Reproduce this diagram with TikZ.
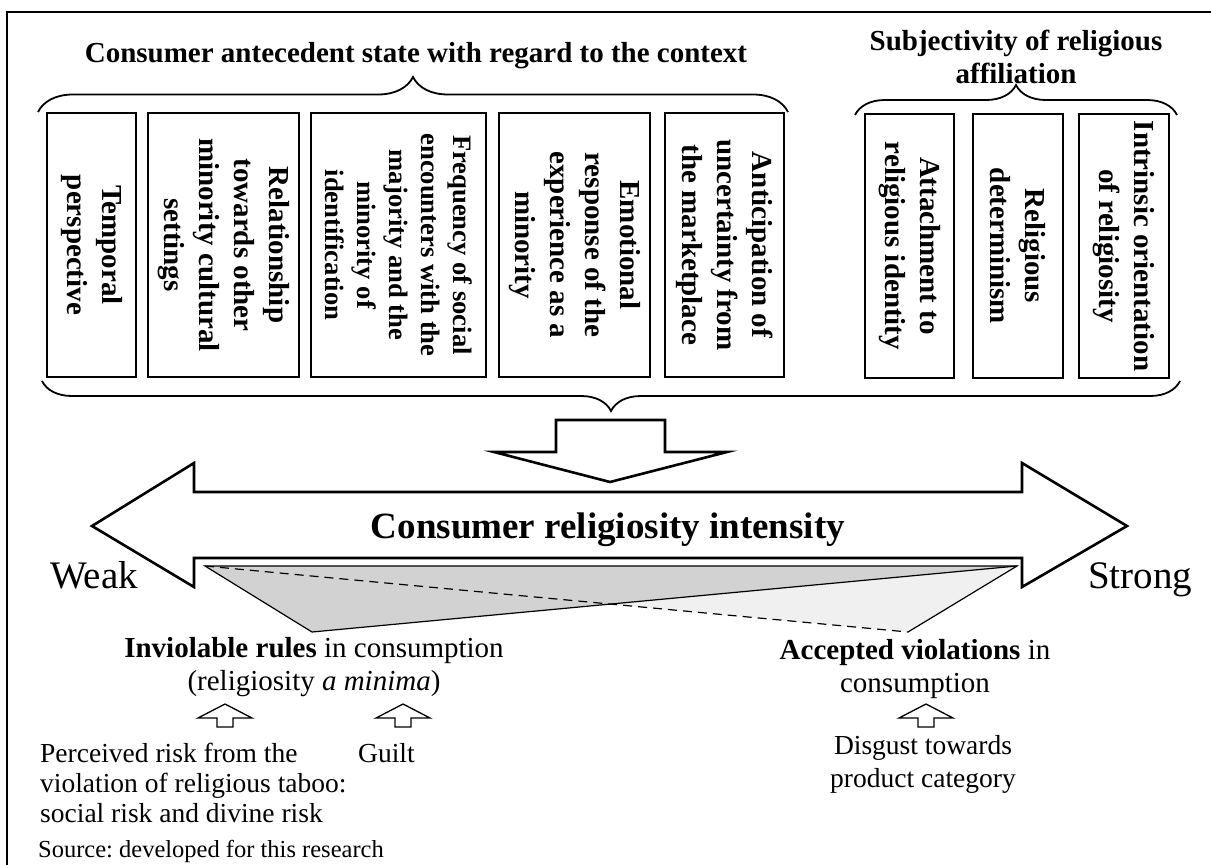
\documentclass[tikz,border=0pt]{standalone}
\usepackage{fontspec}
\setmainfont{Liberation Serif}
\usetikzlibrary{decorations.pathreplacing}
\frenchspacing
\newcommand{\hdfont}{\fontsize{29}{33}\selectfont\bfseries}
\newcommand{\bxfont}{\fontsize{29}{35}\selectfont\bfseries}
\newcommand{\bxsmall}{\fontsize{26.6}{32}\selectfont\bfseries}
\newcommand{\midfont}{\fontsize{37}{40}\selectfont\bfseries}
\newcommand{\wsfont}{\fontsize{39}{42}\selectfont}
\newcommand{\lbfont}{\fontsize{29}{33}\selectfont}
\newcommand{\cafont}{\fontsize{27.5}{30}\selectfont}
\newcommand{\srcfont}{\fontsize{24.5}{28}\selectfont}

\begin{document}
\begin{tikzpicture}[x=1pt,y=-1pt,
  fbox/.style={draw,line width=1.5pt,rotate=-90,align=center,inner sep=0pt,minimum width=264pt,font=\bxfont},
  txt/.style={inner sep=0pt,align=center},
  curly/.style={decorate,decoration={brace,amplitude=#1},line width=1.8pt},
  blockarr/.style={draw,line width=2.6pt,fill=white},
  upblk/.style={draw,line width=1.3pt,fill=white}]
  \useasboundingbox (0,0) rectangle (1211,865);
  \draw[line width=1.6pt] (7,865) -- (7,12) -- (1211,12);

  % headings
  \node[txt,font=\hdfont,anchor=base] (ctx) at (416,62) {Consumer antecedent state with regard to the context};
  \node[txt,font=\hdfont,anchor=base] (subj) at (1016,83) {Subjectivity of religious\\affiliation};

  % antecedents
  \node[fbox,minimum height=89pt] (tempo) at (91.5,245) {Temporal\\perspective};
  \node[fbox,minimum height=151pt] (relat) at (223.5,245) {Relationship\\towards other\\minority cultural\\settings};
  \node[fbox,minimum height=175pt,font=\bxsmall] (freq) at (398.5,245) {Frequency of social\\encounters with the\\majority and the\\minority of\\identification};
  \node[fbox,minimum height=151pt] (emot) at (574.5,245) {Emotional\\response of the\\experience as a\\minority};
  \node[fbox,minimum height=119pt] (antic) at (724.5,245) {Anticipation of\\uncertainty from\\the marketplace};
  \node[fbox,minimum height=89pt] (attach) at (909.5,246) {Attachment to\\religious identity};
  \node[fbox,minimum height=90pt] (determ) at (1018,246) {Religious\\determinism};
  \node[fbox,minimum height=90pt] (intrins) at (1124,246) {Intrinsic orientation\\of religiosity};

  % braces
  \coordinate (b1l) at (38,112);
  \coordinate (b1r) at (788,112);
  \coordinate (b2l) at (855,115);
  \coordinate (b2r) at (1177,115);
  \coordinate (b3l) at (42,381);
  \coordinate (b3r) at (1180,381);
  \draw[curly=35pt] (b1l) -- (b1r);
  \draw[curly=30pt] (b2l) -- (b2r);
  \draw[curly=30pt] (b3r) -- (b3l);

  % block arrows
  \draw[blockarr] (556,420) -- (665,420) -- (665,452) -- (727,452) -- (610,482) -- (494,452) -- (556,452) -- cycle;
  \draw[blockarr] (92,526) -- (194,463) -- (194,492) -- (1022,492) -- (1022,463) -- (1127,526)
    -- (1022,587) -- (1022,558) -- (194,558) -- (194,587) -- cycle;
  \node[txt,font=\midfont,anchor=base] (intens) at (608,538) {Consumer religiosity intensity};
  \node[txt,font=\wsfont,anchor=base west] (weak) at (50,588) {Weak};
  \node[txt,font=\wsfont,anchor=base west] (strong) at (1088,588) {Strong};

  % triangles
  \coordinate (ta) at (205,566);
  \coordinate (tb) at (1017,566);
  \coordinate (tc) at (312,632);
  \coordinate (td) at (908,632);
  \fill[gray!12] (ta) -- (tb) -- (td) -- cycle;
  \fill[gray!35] (ta) -- (tb) -- (tc) -- cycle;
  \draw[line width=1.2pt] (tc) -- (ta) -- (tb) -- (td);
  \draw[line width=1.2pt] (tc) -- (tb);
  \draw[line width=1.2pt,dash pattern=on 9pt off 6pt] (ta) -- (td);

  % outcomes
  \node[txt,font=\lbfont,anchor=base] (inviol) at (314,690) {\textbf{Inviolable rules} in consumption\\(religiosity \textit{a minima})};
  \node[txt,font=\lbfont,anchor=base] (accept) at (915,692) {\textbf{Accepted violations} in\\consumption};
  \foreach \cx in {225,403,926}
    \draw[upblk] (\cx,704) -- (\cx+27,718) -- (\cx+8,718) -- (\cx+8,727) -- (\cx-8,727) -- (\cx-8,718) -- (\cx-27,718) -- cycle;
  \node[txt,font=\cafont,anchor=base west,align=left] (risk) at (40,822) {Perceived risk from the\\violation of religious taboo:\\social risk and divine risk};
  \node[txt,font=\cafont,anchor=base west] (guilt) at (358,762) {Guilt};
  \node[txt,font={\fontsize{27.5}{33}\selectfont},anchor=base] (disg) at (923,787) {Disgust towards\\product category};
  \node[txt,font=\srcfont,anchor=base west] (src) at (38,857) {Source: developed for this research};
\end{tikzpicture}
\end{document}
